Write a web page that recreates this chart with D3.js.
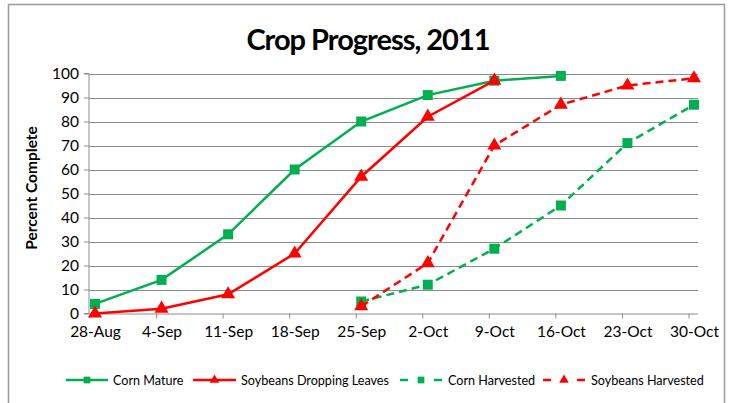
<!DOCTYPE html>
<html><head><meta charset="utf-8">
<script src="https://cdn.jsdelivr.net/npm/d3@7"></script>
<style>
html,body{margin:0;padding:0;background:#fff;}
svg{display:block;font-family:Lato,"Open Sans",sans-serif;}
</style></head>
<body>
<svg id="c" width="733" height="403"></svg>
<script>
const categories = ["28-Aug","4-Sep","11-Sep","18-Sep","25-Sep","2-Oct","9-Oct","16-Oct","23-Oct","30-Oct"];
const cornMature = [4,14,33,60,80,91,97,99,null,null];
const soyDropping = [0,2,8,25,57,82,97,null,null,null];
const cornHarvested = [null,null,null,null,5,12,27,45,71,87];
const soyHarvested = [null,null,null,null,3,21,70,87,95,98];
const yTicks = [0,10,20,30,40,50,60,70,80,90,100];

const series = [
  {name:"Corn Mature", values:cornMature, color:"#00B050", dash:null, marker:"square"},
  {name:"Soybeans Dropping Leaves", values:soyDropping, color:"#FF0000", dash:null, marker:"triangle"},
  {name:"Corn Harvested", values:cornHarvested, color:"#00B050", dash:"8,5", marker:"square"},
  {name:"Soybeans Harvested", values:soyHarvested, color:"#FF0000", dash:"8,5", marker:"triangle"}
];

const svg = d3.select("#c");
const pL = 89, pR = 698, pT = 73.5, pB = 313.5;
const x = d3.scalePoint().domain(categories).range([95, 694]);
const y = d3.scaleLinear().domain([0,100]).range([pB, pT]);

// frame
svg.append("rect").attr("x",8.5).attr("y",4.5).attr("width",716).attr("height",420)
  .attr("fill","none").attr("stroke","#9a9a9a").attr("stroke-width",1.5);

// title
svg.append("text").attr("x",368).attr("y",50).attr("text-anchor","middle")
  .attr("font-size",29).attr("font-weight","bold").attr("letter-spacing",-1).attr("fill","#000")
  .text("Crop Progress, 2011");

// gridlines
svg.append("g").selectAll("line").data(yTicks.filter(d=>d>0)).join("line")
  .attr("x1",pL).attr("x2",pR)
  .attr("y1",d=>Math.round(y(d))+0.5).attr("y2",d=>Math.round(y(d))+0.5)
  .attr("stroke","#8c8c8c").attr("stroke-width",1);

// y axis
const yAxis = d3.axisLeft(y).tickValues(yTicks).tickSize(5).tickPadding(5);
const gy = svg.append("g").attr("transform",`translate(${pL},0)`).call(yAxis);
gy.select(".domain").attr("stroke","#8c8c8c").attr("d",`M-5,${pB}H0V${pT}H-5`);
gy.selectAll(".tick line").attr("stroke","#8c8c8c");
gy.selectAll(".tick text").attr("font-size",15.5).attr("font-family","Lato,sans-serif").attr("fill","#000");

// x axis (ticks offset slightly left of points)
const xAxis = d3.axisBottom(x).tickSize(0).tickPadding(12);
const gx = svg.append("g").attr("transform",`translate(0,${pB})`).call(xAxis);
gx.select(".domain").attr("stroke","#8c8c8c").attr("d",`M${pL},0.5H${pR}`);
gx.selectAll(".tick text").attr("font-size",15.5).attr("font-family","Lato,sans-serif").attr("fill","#000");
svg.append("g").selectAll("line").data(categories).join("line")
  .attr("x1",d=>x(d)-5).attr("x2",d=>x(d)-5).attr("y1",pB).attr("y2",pB+5)
  .attr("stroke","#8c8c8c");

// y title
svg.append("text").attr("transform","translate(37,188) rotate(-90)").attr("text-anchor","middle")
  .attr("font-size",15.5).attr("font-weight","bold").text("Percent Complete");

// lines
const line = d3.line().defined(d=>d.v!=null).x(d=>x(d.c)).y(d=>y(d.v));
const sq = d3.symbol().type(d3.symbolSquare).size(100);
const tri = d3.symbol().type(d3.symbolTriangle).size(85);
series.forEach(s=>{
  const pts = categories.map((c,i)=>({c, v:s.values[i]}));
  svg.append("path").datum(pts).attr("d",line).attr("fill","none")
    .attr("stroke",s.color).attr("stroke-width",2.5).attr("stroke-dasharray",s.dash);
  svg.append("g").selectAll("path").data(pts.filter(d=>d.v!=null)).join("path")
    .attr("transform",d=>`translate(${x(d.c)},${y(d.v)})`)
    .attr("d", s.marker==="square"?sq:tri).attr("fill",s.color);
});

// legend
const legendItems = [
  {s:series[0], x1:66, x2:108, tx:113},
  {s:series[1], x1:193, x2:236, tx:241},
  {s:series[2], x1:400, x2:442, tx:448},
  {s:series[3], x1:543, x2:585, tx:591}
];
const ly = 380;
const lg = svg.append("g");
legendItems.forEach(it=>{
  const g = lg.append("g");
  if (it.s.dash) {
    g.append("line").attr("x1",it.x1).attr("x2",it.x1+8).attr("y1",ly).attr("y2",ly).attr("stroke",it.s.color).attr("stroke-width",2.5);
    g.append("line").attr("x1",it.x2-8).attr("x2",it.x2).attr("y1",ly).attr("y2",ly).attr("stroke",it.s.color).attr("stroke-width",2.5);
  } else {
    g.append("line").attr("x1",it.x1).attr("x2",it.x2).attr("y1",ly).attr("y2",ly).attr("stroke",it.s.color).attr("stroke-width",2.5);
  }
  const ms = it.s.marker==="square" ? d3.symbol().type(d3.symbolSquare).size(45) : d3.symbol().type(d3.symbolTriangle).size(40);
  g.append("path").attr("transform",`translate(${(it.x1+it.x2)/2},${ly})`).attr("d",ms).attr("fill",it.s.color);
  g.append("text").attr("x",it.tx).attr("y",ly+4.5).attr("font-size",12.6).text(it.s.name);
});
</script>
</body></html>
